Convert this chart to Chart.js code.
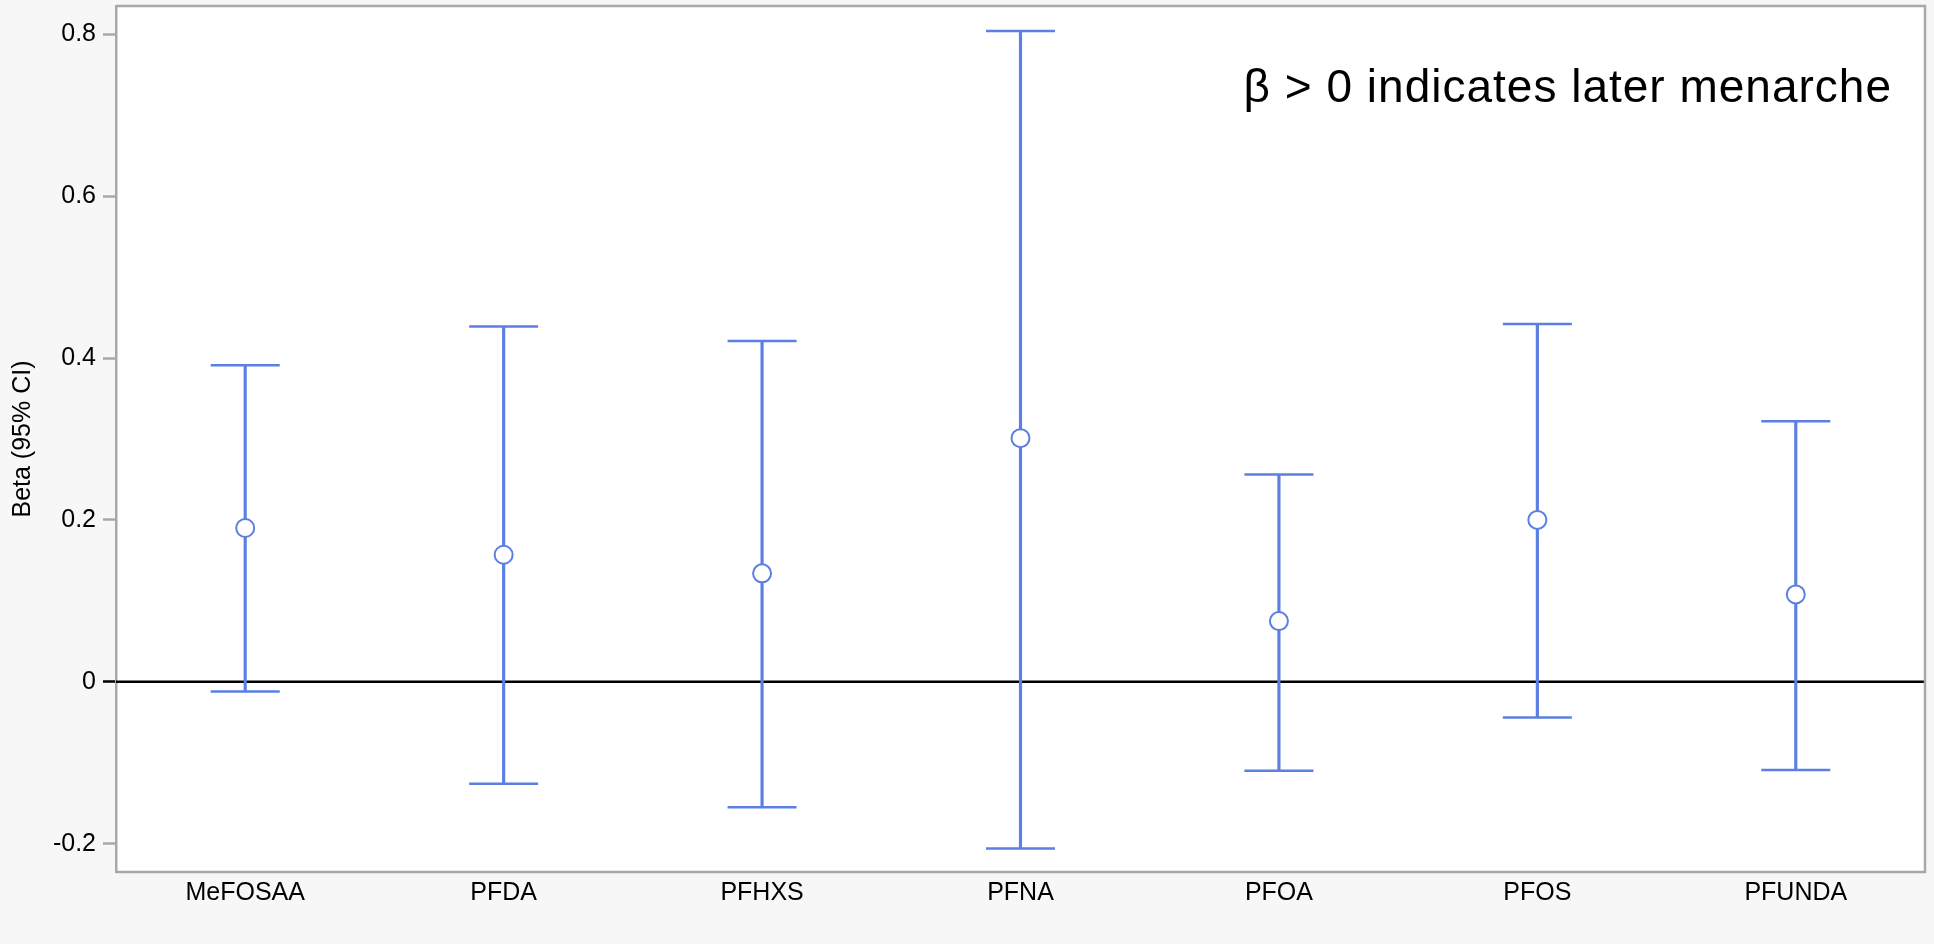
<!DOCTYPE html>
<html>
<head>
<meta charset="utf-8">
<script src="https://cdn.jsdelivr.net/npm/chart.js@4.4.1/dist/chart.umd.min.js"></script>
<style>
  html, body { margin: 0; padding: 0; background: #f7f7f7; }
  #wrap { width: 1934px; height: 944px; position: relative; }
</style>
</head>
<body>
<div id="wrap"><canvas id="c"></canvas></div>
<script>
const categories = ['MeFOSAA', 'PFDA', 'PFHXS', 'PFNA', 'PFOA', 'PFOS', 'PFUNDA'];
const betaValues = [0.190, 0.157, 0.134, 0.301, 0.075, 0.200, 0.108];
const lowerCI = [-0.012, -0.126, -0.155, -0.206, -0.110, -0.044, -0.109];
const upperCI = [0.391, 0.439, 0.421, 0.804, 0.256, 0.442, 0.322];
const yTicks = [-0.2, 0, 0.2, 0.4, 0.6, 0.8];
const yMin = -0.235;
const yMax = 0.835;
const referenceValue = 0;
const yTitle = 'Beta (95% CI)';
const annotationText = 'β > 0 indicates later menarche';

const BLUE = '#5b7fe2';
const FRAME = '#a8a8a8';
const FONT = '"Liberation Sans", Arial, Helvetica, sans-serif';

const framePlugin = {
  id: 'frame',
  beforeDraw(chart) {
    const { ctx, chartArea: a } = chart;
    ctx.save();
    ctx.fillStyle = '#f7f7f7';
    ctx.fillRect(0, 0, chart.width, chart.height);
    ctx.fillStyle = '#ffffff';
    ctx.fillRect(a.left, a.top, a.right - a.left, a.bottom - a.top);
    ctx.restore();
  },
  beforeDatasetsDraw(chart) {
    const { ctx, chartArea: a, scales } = chart;
    const y0 = scales.y.getPixelForValue(referenceValue);
    ctx.save();
    ctx.strokeStyle = '#000000';
    ctx.lineWidth = 2.5;
    ctx.beginPath();
    ctx.moveTo(a.left, y0);
    ctx.lineTo(a.right, y0);
    ctx.stroke();
    ctx.restore();
  },
  afterDraw(chart) {
    const { ctx, chartArea: a } = chart;
    ctx.save();
    ctx.strokeStyle = FRAME;
    ctx.lineWidth = 2.5;
    ctx.beginPath();
    ctx.moveTo(a.left, a.top);
    ctx.lineTo(a.right, a.top);
    ctx.lineTo(a.right, a.bottom);
    ctx.lineTo(a.left, a.bottom);
    ctx.stroke();
    ctx.font = '46px ' + FONT;
    if ('letterSpacing' in ctx) ctx.letterSpacing = '1px';
    ctx.fillStyle = '#000';
    ctx.textAlign = 'right';
    ctx.textBaseline = 'alphabetic';
    ctx.fillText(annotationText, a.right - 33, a.top + 96);
    ctx.restore();
  }
};

new Chart(document.getElementById('c'), {
  type: 'bar',
  data: {
    labels: categories,
    datasets: [
      {
        type: 'line',
        label: 'Beta',
        data: betaValues,
        showLine: false,
        pointStyle: 'circle',
        pointRadius: 9,
        pointHoverRadius: 9,
        pointBorderWidth: 2,
        pointBackgroundColor: '#ffffff',
        pointBorderColor: BLUE,
        order: 0
      },
      {
        type: 'line',
        label: 'Lower',
        data: lowerCI,
        showLine: false,
        pointStyle: 'line',
        pointRadius: 34.5,
        pointHoverRadius: 34.5,
        pointBorderWidth: 2.5,
        pointBorderColor: BLUE,
        order: 1
      },
      {
        type: 'line',
        label: 'Upper',
        data: upperCI,
        showLine: false,
        pointStyle: 'line',
        pointRadius: 34.5,
        pointHoverRadius: 34.5,
        pointBorderWidth: 2.5,
        pointBorderColor: BLUE,
        order: 1
      },
      {
        type: 'bar',
        label: 'CI',
        data: categories.map((c, i) => [lowerCI[i], upperCI[i]]),
        backgroundColor: BLUE,
        borderWidth: 0,
        barThickness: 2.5,
        order: 2
      }
    ]
  },
  options: {
    responsive: true,
    maintainAspectRatio: false,
    animation: false,
    events: [],
    layout: { autoPadding: false, padding: { top: 6, right: 9, left: 0, bottom: 0 } },
    plugins: {
      legend: { display: false },
      tooltip: { enabled: false },
      title: { display: false }
    },
    scales: {
      x: {
        grid: { display: false, drawTicks: false },
        border: { display: false },
        ticks: { font: { size: 25, family: FONT }, color: '#000', padding: 6, maxRotation: 0, autoSkip: false },
        afterFit(s) { s.height = 72; }
      },
      y: {
        min: yMin,
        max: yMax,
        afterBuildTicks(s) { s.ticks = yTicks.map(v => ({ value: v })); },
        ticks: {
          font: { size: 25, family: FONT },
          color: '#000',
          padding: 7,
          callback: v => String(Math.round(v * 10) / 10)
        },
        grid: {
          drawOnChartArea: false,
          tickColor: ctx => (ctx.tick && ctx.tick.value === referenceValue) ? '#000000' : FRAME,
          tickLength: 13,
          tickWidth: 2.5
        },
        border: { display: true, color: FRAME, width: 2.5 },
        title: {
          display: true,
          text: yTitle,
          font: { size: 25, family: FONT },
          color: '#000',
          padding: { top: 8, bottom: 0 }
        },
        afterFit(s) { s.width = 116; s.paddingTop = 0; s.paddingBottom = 0; }
      }
    }
  },
  plugins: [framePlugin]
});
</script>
</body>
</html>
